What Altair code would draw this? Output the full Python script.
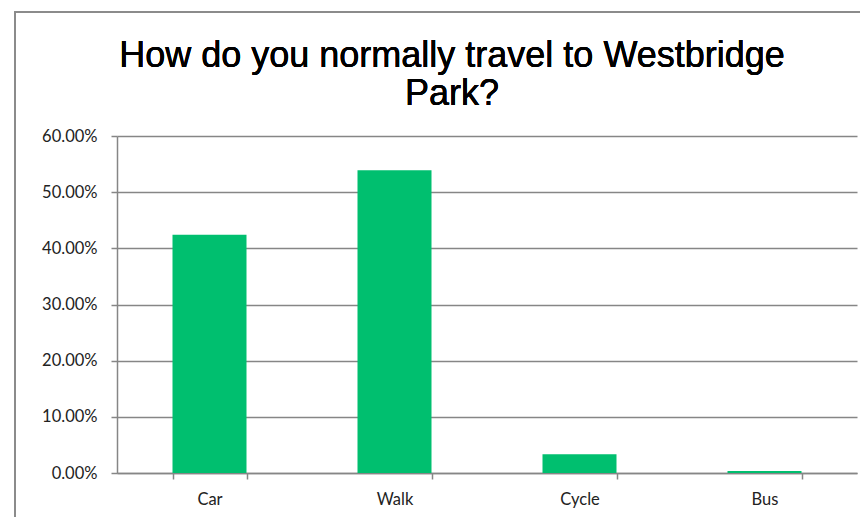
import altair as alt
import pandas as pd

categories = ["Car", "Walk", "Cycle", "Bus"]
shares = [0.4244, 0.5389, 0.0333, 0.0035]
title_lines = ["How do you normally travel to Westbridge", "Park?"]

df = pd.DataFrame({"mode": categories, "share": shares})

bars = alt.Chart(df).mark_bar(color="#00BF6F").encode(
    x=alt.X(
        "mode:N",
        sort=categories,
        title=None,
        scale=alt.Scale(paddingInner=0.6, paddingOuter=0.3),
        axis=alt.Axis(
            labelAngle=0,
            labelFont="Lato",
            labelFontSize=16.5,
            labelColor="#222222",
            labelPadding=12,
            domainColor="#868686",
            domainWidth=1.5,
            tickColor="#868686",
            tickWidth=1.5,
            tickSize=6,
            tickBand="extent",
            grid=False,
        ),
    ),
    y=alt.Y(
        "share:Q",
        title=None,
        scale=alt.Scale(domain=[0, 0.6], nice=False),
        axis=alt.Axis(
            format=".2%",
            values=[0, 0.1, 0.2, 0.3, 0.4, 0.5, 0.6],
            labelFont="Lato",
            labelFontSize=16.5,
            labelColor="#222222",
            labelPadding=14,
            domainColor="#868686",
            domainWidth=1.5,
            tickColor="#868686",
            tickWidth=1.5,
            tickSize=6,
            gridColor="#868686",
            gridWidth=1.5,
        ),
    ),
)

frame = alt.Chart(df).mark_rect(fill=None, stroke="#8a8a8a", strokeWidth=1.5).encode(
    x=alt.value(-102), x2=alt.value(900), y=alt.value(-124), y2=alt.value(600)
)

title = alt.Chart(df).mark_text(
    text=title_lines,
    font="Liberation Sans",
    fontSize=36,
    lineHeight=38,
    align="center",
    baseline="alphabetic",
    color="#000000",
).encode(x=alt.value(335), y=alt.value(-69))

chart = alt.layer(frame, bars, title).properties(
    width=740,
    height=337,
    autosize=alt.AutoSizeParams(type="none"),
    padding={"left": 109, "top": 128, "right": 3, "bottom": 44},
).configure_view(stroke=None)

chart.save("out.html", embed_options={"renderer": "svg", "actions": False})
